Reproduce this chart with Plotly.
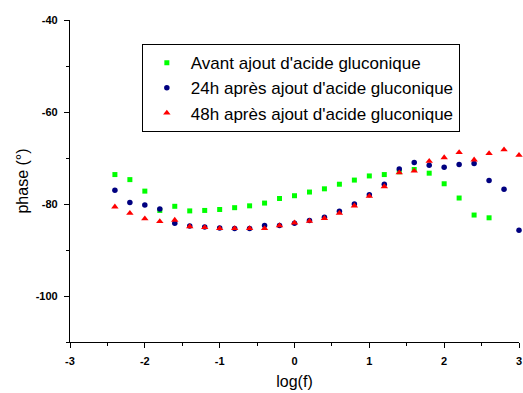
import plotly.graph_objects as go

x_green = [-2.4, -2.2, -2.0, -1.8, -1.6, -1.4, -1.2, -1.0, -0.8, -0.6, -0.4, -0.2, 0.0,
           0.2, 0.4, 0.6, 0.8, 1.0, 1.2, 1.4, 1.6, 1.8, 2.0, 2.2, 2.4, 2.6]
y_green = [-73.6, -74.7, -77.2, -81.4, -80.5, -81.5, -81.4, -81.2, -80.8, -80.4, -79.8, -78.8, -78.2,
           -77.4, -76.7, -75.7, -74.8, -73.9, -73.6, -73.0, -72.5, -73.3, -75.6, -78.7, -82.4, -83.0]

x_all = [-2.4, -2.2, -2.0, -1.8, -1.6, -1.4, -1.2, -1.0, -0.8, -0.6, -0.4, -0.2, 0.0,
         0.2, 0.4, 0.6, 0.8, 1.0, 1.2, 1.4, 1.6, 1.8, 2.0, 2.2, 2.4, 2.6, 2.8, 3.0]
y_blue = [-77.0, -79.7, -80.2, -81.1, -84.2, -84.8, -85.0, -85.2, -85.3, -85.3, -84.7, -84.7, -84.2,
          -83.6, -82.9, -81.6, -80.0, -78.0, -75.7, -72.4, -71.0, -71.6, -72.0, -71.4, -71.2, -74.9, -76.8, -85.7]
y_red = [-80.6, -82.0, -83.2, -83.8, -83.5, -84.9, -85.1, -85.3, -85.3, -85.3, -85.3, -84.7, -84.1,
         -83.7, -83.1, -82.0, -80.4, -78.3, -76.2, -73.2, -72.8, -70.7, -69.9, -68.8, -70.4, -69.0, -68.2, -69.4]

x_tickvals = [-3, -2, -1, 0, 1, 2, 3]
x_ticktext = ["-3", "-2", "-1", "0", "1", "2", "3"]
y_tickvals = [-100, -80, -60, -40]
y_ticktext = ["-100", "-80", "-60", "-40"]

names = ["Avant ajout d'acide gluconique",
         "24h après ajout d'acide gluconique",
         "48h après ajout d'acide gluconique"]

FONT = "Liberation Sans, Arial, sans-serif"

fig = go.Figure()
fig.add_trace(go.Scatter(x=x_green, y=y_green, mode="markers", name=names[0], cliponaxis=False,
                         marker=dict(symbol="square", size=5, color="#00ff00")))
fig.add_trace(go.Scatter(x=x_all, y=y_blue, mode="markers", name=names[1], cliponaxis=False,
                         marker=dict(symbol="circle", size=5.5, color="#000080")))
fig.add_trace(go.Scatter(x=x_all, y=y_red, mode="markers", name=names[2], cliponaxis=False,
                         marker=dict(symbol="triangle-up", size=6.5, color="#ff0000")))

axis_common = dict(showgrid=False, zeroline=False, showline=True, linecolor="black",
                   linewidth=1.2, ticks="outside", ticklen=5, tickcolor="black", tickwidth=1.2,
                   automargin=False, ticklabelstandoff=4, ticklabeloverflow="allow",
                   tickmode="array",
                   tickfont=dict(family=FONT, size=11, color="black", weight="bold"))

fig.update_xaxes(range=[-3, 3], tickvals=x_tickvals, ticktext=x_ticktext,
                 minor=dict(tickmode="linear", tick0=-3, dtick=0.5, ticks="outside", ticklen=3,
                            tickcolor="black", tickwidth=1.2),
                 title=dict(text="log(f)", font=dict(family=FONT, size=16, color="black"), standoff=9),
                 **axis_common)
fig.update_yaxes(range=[-110, -40], tickvals=y_tickvals, ticktext=y_ticktext,
                 minor=dict(tickmode="linear", tick0=-100, dtick=10, ticks="outside", ticklen=3,
                            tickcolor="black", tickwidth=1.2),
                 title=dict(text="phase (°)", font=dict(family=FONT, size=16, color="black"), standoff=3),
                 **axis_common)

fig.update_layout(
    width=523, height=393,
    margin=dict(l=70, r=4, t=20, b=51, pad=0),
    plot_bgcolor="white", paper_bgcolor="white",
    legend=dict(x=0.16, y=0.925, xanchor="left", yanchor="top",
                bordercolor="black", borderwidth=1, bgcolor="white",
                font=dict(family=FONT, size=17, color="black"),
                itemwidth=38, tracegroupgap=0),
    showlegend=True,
)

fig.write_html("out.html", config={"displayModeBar": False},
               post_script="document.body.style.margin='0';document.body.style.overflow='hidden';")
